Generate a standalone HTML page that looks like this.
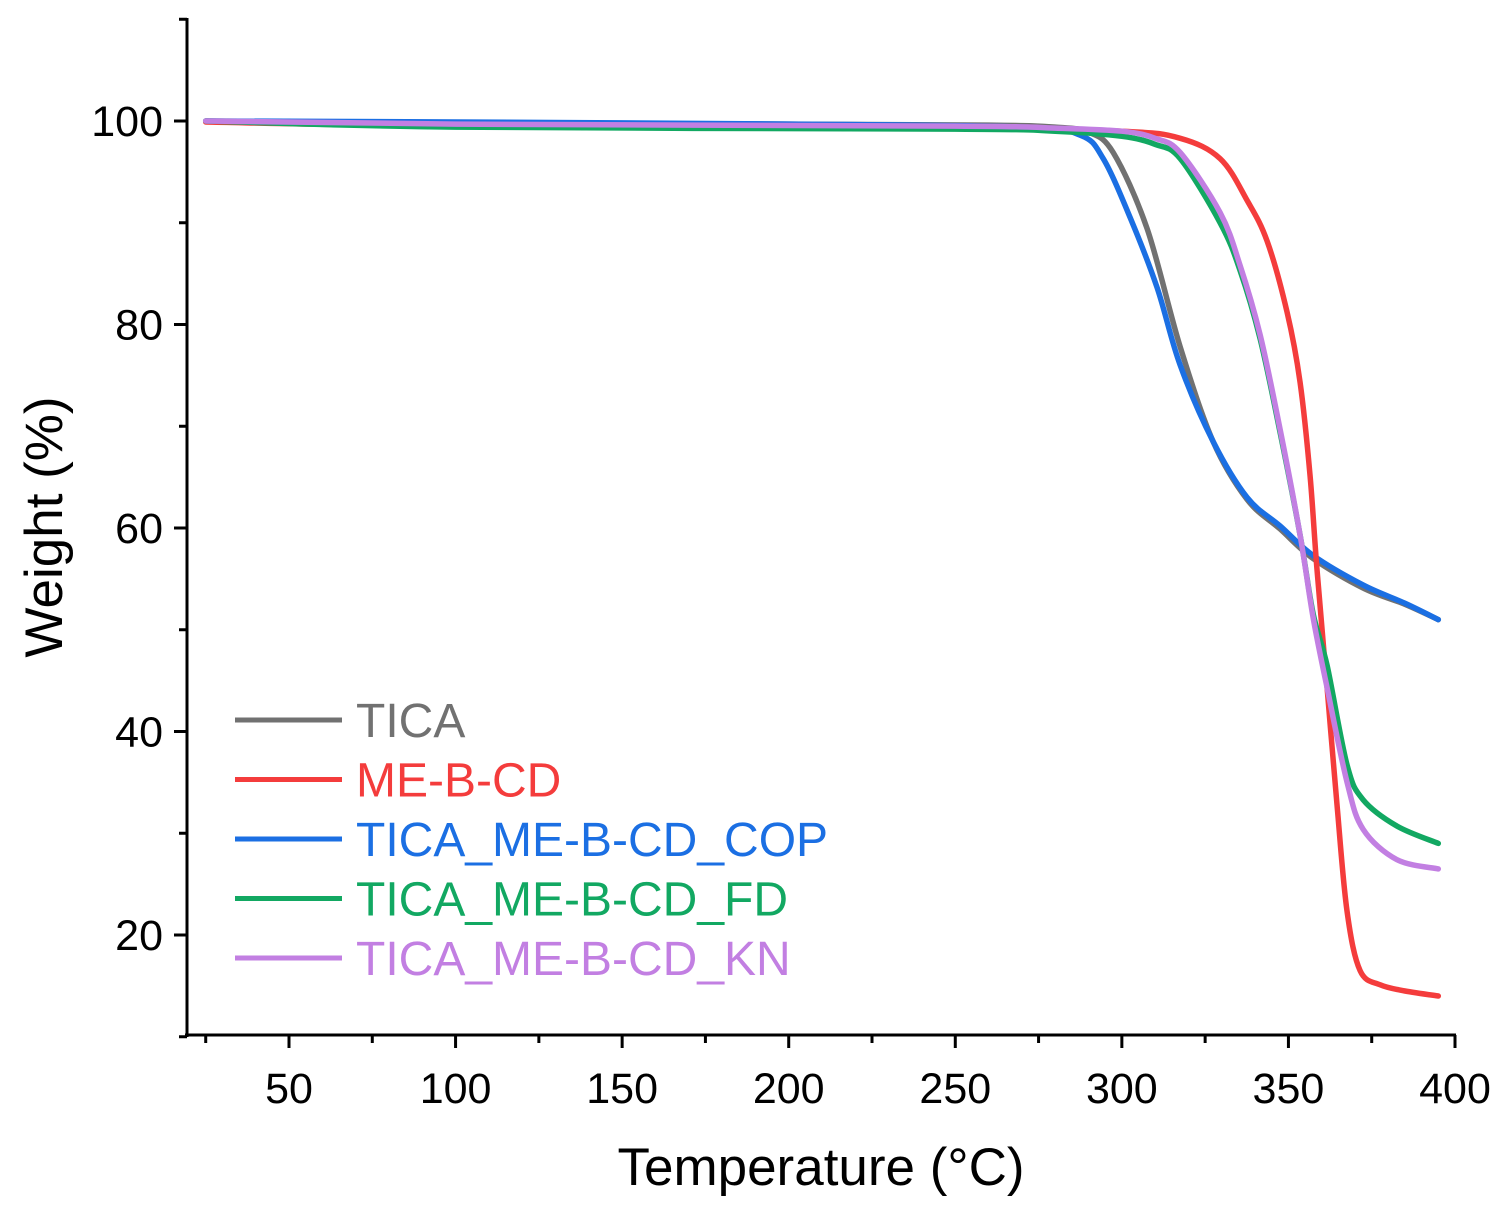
<!DOCTYPE html>
<html><head><meta charset="utf-8"><style>
html,body{margin:0;padding:0;background:#fff;}
svg{display:block;font-family:"Liberation Sans",Arial,sans-serif;}
</style></head><body>
<svg id="chart" width="1505" height="1213" viewBox="0 0 1505 1213">
<g id="axes"></g>
<g id="series"></g>
<g id="legend"></g>
<text x="62" y="527" transform="rotate(-90 62 527)" text-anchor="middle" font-size="53">Weight (%)</text>
<text x="821" y="1185" text-anchor="middle" font-size="53">Temperature (°C)</text>
</svg>
<script>
const xTicks=[50,100,150,200,250,300,350,400];
const yTicks=[20,40,60,80,100];
const seriesNames=["TICA","ME-B-CD","TICA_ME-B-CD_COP","TICA_ME-B-CD_FD","TICA_ME-B-CD_KN"];
const seriesColors=["#717171","#f43c3c","#1b6fe3","#12a862","#c27fe2"];
const tTICA=[25,100,200,260,280,290,297.4,307.6,317.5,327.4,337.6,347.5,357.4,372.4,385,395];
const wTICA=[100,99.8,99.7,99.6,99.4,98.9,96.9,89.4,77.8,68.5,62.8,59.9,57,54.1,52.5,51];
const tRED=[25,100,250,300,317.5,329.5,337.6,343.6,349.6,353.5,356.5,358.6,361.6,364.6,367.6,371.5,377.6,385,395];
const wRED=[99.9,99.5,99.3,99,98.3,96.3,92.2,88.2,81.2,74.3,65.1,55.8,44.3,32.7,22.3,16.5,15.1,14.5,14];
const tCOP=[25,100,200,270,287.5,294.4,302.5,310.6,317.5,327.4,337.6,347.5,357.4,372.4,385,395];
const wCOP=[100,99.9,99.7,99.4,98.6,96.3,90.5,83.6,76,68.5,63,60.2,57.3,54.4,52.6,51];
const tFD=[25,100,250,280,300,310,317.5,329.5,335.5,341.5,347.5,353.5,357.4,361.6,367.6,372.4,382.6,395];
const wFD=[100,99.4,99.2,99,98.5,97.7,96.3,90,85.3,78.6,69.4,59.3,51.6,46.5,36.7,33.3,30.7,29];
const tKN=[25,100,250,280,300,310,317.5,329.5,335.5,341.5,347.5,353.5,357.4,361.6,367.6,372.4,382.6,395];
const wKN=[100,99.7,99.5,99.3,99,98.3,96.9,91,85.8,79,69.7,59.3,51.2,44.3,35,30.4,27.4,26.5];
const allT=[tTICA,tRED,tCOP,tFD,tKN], allW=[wTICA,wRED,wCOP,wFD,wKN];
const X=t=>289+(t-50)*(1455-289)/350;
const Y=w=>121+(100-w)*(935-121)/80;
const NS="http://www.w3.org/2000/svg";
function mk(tag,attrs,parent){const e=document.createElementNS(NS,tag);for(const k in attrs)e.setAttribute(k,attrs[k]);parent.appendChild(e);return e;}
function smooth(p){let d='M'+p[0][0].toFixed(1)+','+p[0][1].toFixed(1);
 for(let i=0;i<p.length-1;i++){const p0=p[i-1]||p[i],p1=p[i],p2=p[i+1],p3=p[i+2]||p2;
  const c1=[p1[0]+(p2[0]-p0[0])/6,p1[1]+(p2[1]-p0[1])/6],c2=[p2[0]-(p3[0]-p1[0])/6,p2[1]-(p3[1]-p1[1])/6];
  d+=' C'+c1.map(v=>v.toFixed(1)).join(',')+' '+c2.map(v=>v.toFixed(1)).join(',')+' '+p2[0].toFixed(1)+','+p2[1].toFixed(1);}
 return d;}
const axes=document.getElementById('axes');
let l=mk('line',{x1:187,y1:18,x2:187,y2:1037,stroke:'#000','stroke-width':3},axes);


l=mk('line',{x1:185,y1:1035,x2:1456,y2:1035,stroke:'#000','stroke-width':3},axes);


for(let t=25;t<=400;t+=25){const major=t%50===0;
 const tk=mk('line',{x1:X(t),y1:1035,x2:X(t),y2:major?1048:1043,stroke:'#000','stroke-width':3},axes);
 
 }
xTicks.forEach(t=>{const tx=mk('text',{x:X(t),y:1103,'text-anchor':'middle','font-size':43},axes);tx.textContent=t;
 
 });
for(let w=10;w<=110;w+=10){const major=w%20===0;
 const tk=mk('line',{x1:major?174:179,y1:Y(w),x2:187,y2:Y(w),stroke:'#000','stroke-width':3},axes);
 
 }
yTicks.forEach(w=>{const tx=mk('text',{x:163,y:Y(w)+15,'text-anchor':'end','font-size':43},axes);tx.textContent=w;
 
 });
const sg=document.getElementById('series');
const order=[0,2,1,3,4];
order.forEach(i=>{const pts=allT[i].map((t,j)=>[X(t),Y(allW[i][j])]);
 const p=mk('path',{d:smooth(pts),fill:'none',stroke:seriesColors[i],'stroke-width':5.5,'stroke-linejoin':'round','stroke-linecap':'round'},sg);
 
 });
const lg=document.getElementById('legend');
seriesNames.forEach((n,i)=>{const y=720+i*59.5;
 const g=mk('g',{},lg);
 
 
 mk('line',{x1:235,y1:y,x2:342,y2:y,stroke:seriesColors[i],'stroke-width':5},g);
 const tx=mk('text',{x:356,y:y+17,'font-size':48,fill:seriesColors[i]},g);tx.textContent=n;});
</script>
</body></html>
